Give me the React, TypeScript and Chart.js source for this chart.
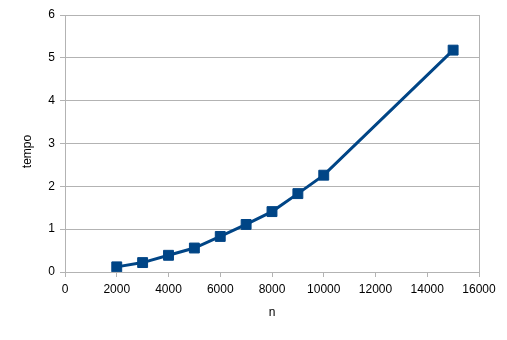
import React, { useEffect, useRef } from "react";
import { Chart, registerables } from "chart.js";

Chart.register(...registerables);

const nValues = [2000, 3000, 4000, 5000, 6000, 7000, 8000, 9000, 10000, 15000];
const tempoValues = [0.12, 0.22, 0.39, 0.56, 0.83, 1.11, 1.41, 1.83, 2.26, 5.18];
const xTitle = "n";
const yTitle = "tempo";
const FONT = "'Liberation Sans', Arial, sans-serif";
const BLUE = "#004586";
const GRID = "#b3b3b3";

const yTitlePlugin = {
  id: "yTitlePlugin",
  afterDraw(chart: any) {
    const { ctx, chartArea } = chart;
    ctx.save();
    ctx.font = `12px ${FONT}`;
    ctx.fillStyle = "#000";
    ctx.textAlign = "center";
    ctx.textBaseline = "middle";
    ctx.translate(chartArea.left - 37, (chartArea.top + chartArea.bottom) / 2 + 8);
    ctx.rotate(-Math.PI / 2);
    ctx.fillText(yTitle, 0, 0);
    ctx.restore();
  },
};

export default function App() {
  const ref = useRef<HTMLCanvasElement>(null);
  useEffect(() => {
    if (!ref.current) return;
    const chart = new Chart(ref.current, {
      type: "line",
      data: {
        datasets: [
          {
            data: nValues.map((n, i) => ({ x: n, y: tempoValues[i] })),
            borderColor: BLUE,
            backgroundColor: BLUE,
            borderWidth: 3,
            pointStyle: "rect",
            pointRadius: 7,
            pointBorderWidth: 1,
            pointBorderColor: BLUE,
            pointBackgroundColor: BLUE,
            tension: 0,
          },
        ],
      },
      options: {
        responsive: false,
        animation: false,
        layout: { padding: { top: 15, right: 28, left: 0, bottom: 0 } },
        plugins: { legend: { display: false }, tooltip: { enabled: false } },
        scales: {
          x: {
            type: "linear",
            min: 0,
            max: 16000,
            ticks: {
              stepSize: 2000,
              color: "#000",
              font: { family: FONT, size: 12 },
              padding: 5,
              maxRotation: 0,
              callback: (v: any) => String(v),
            },
            grid: {
              color: (c: any) => (c.tick && c.tick.value === 16000 ? GRID : "rgba(0,0,0,0)"),
              tickColor: GRID,
              tickLength: 5,
              lineWidth: 1,
            },
            border: { color: GRID, width: 1 },
            title: { display: true, text: xTitle, color: "#000", font: { family: FONT, size: 12 }, padding: { top: 0, bottom: 20 } },
            afterFit: (s: any) => {
              s.height = 68;
            },
          },
          y: {
            min: 0,
            max: 6,
            ticks: { stepSize: 1, color: "#000", font: { family: FONT, size: 12 }, padding: 5, callback: (v: any) => String(v) },
            grid: { color: GRID, tickColor: GRID, tickLength: 5, lineWidth: 1 },
            border: { color: GRID, width: 1 },
            afterFit: (s: any) => {
              s.width = 65;
            },
          },
        },
      },
      plugins: [yTitlePlugin],
    });
    return () => chart.destroy();
  }, []);
  return (
    <div style={{ position: "fixed", left: 0, top: 0, width: 507, height: 340, background: "#fff" }}>
      <canvas ref={ref} width={507} height={340} style={{ display: "block" }} />
    </div>
  );
}
